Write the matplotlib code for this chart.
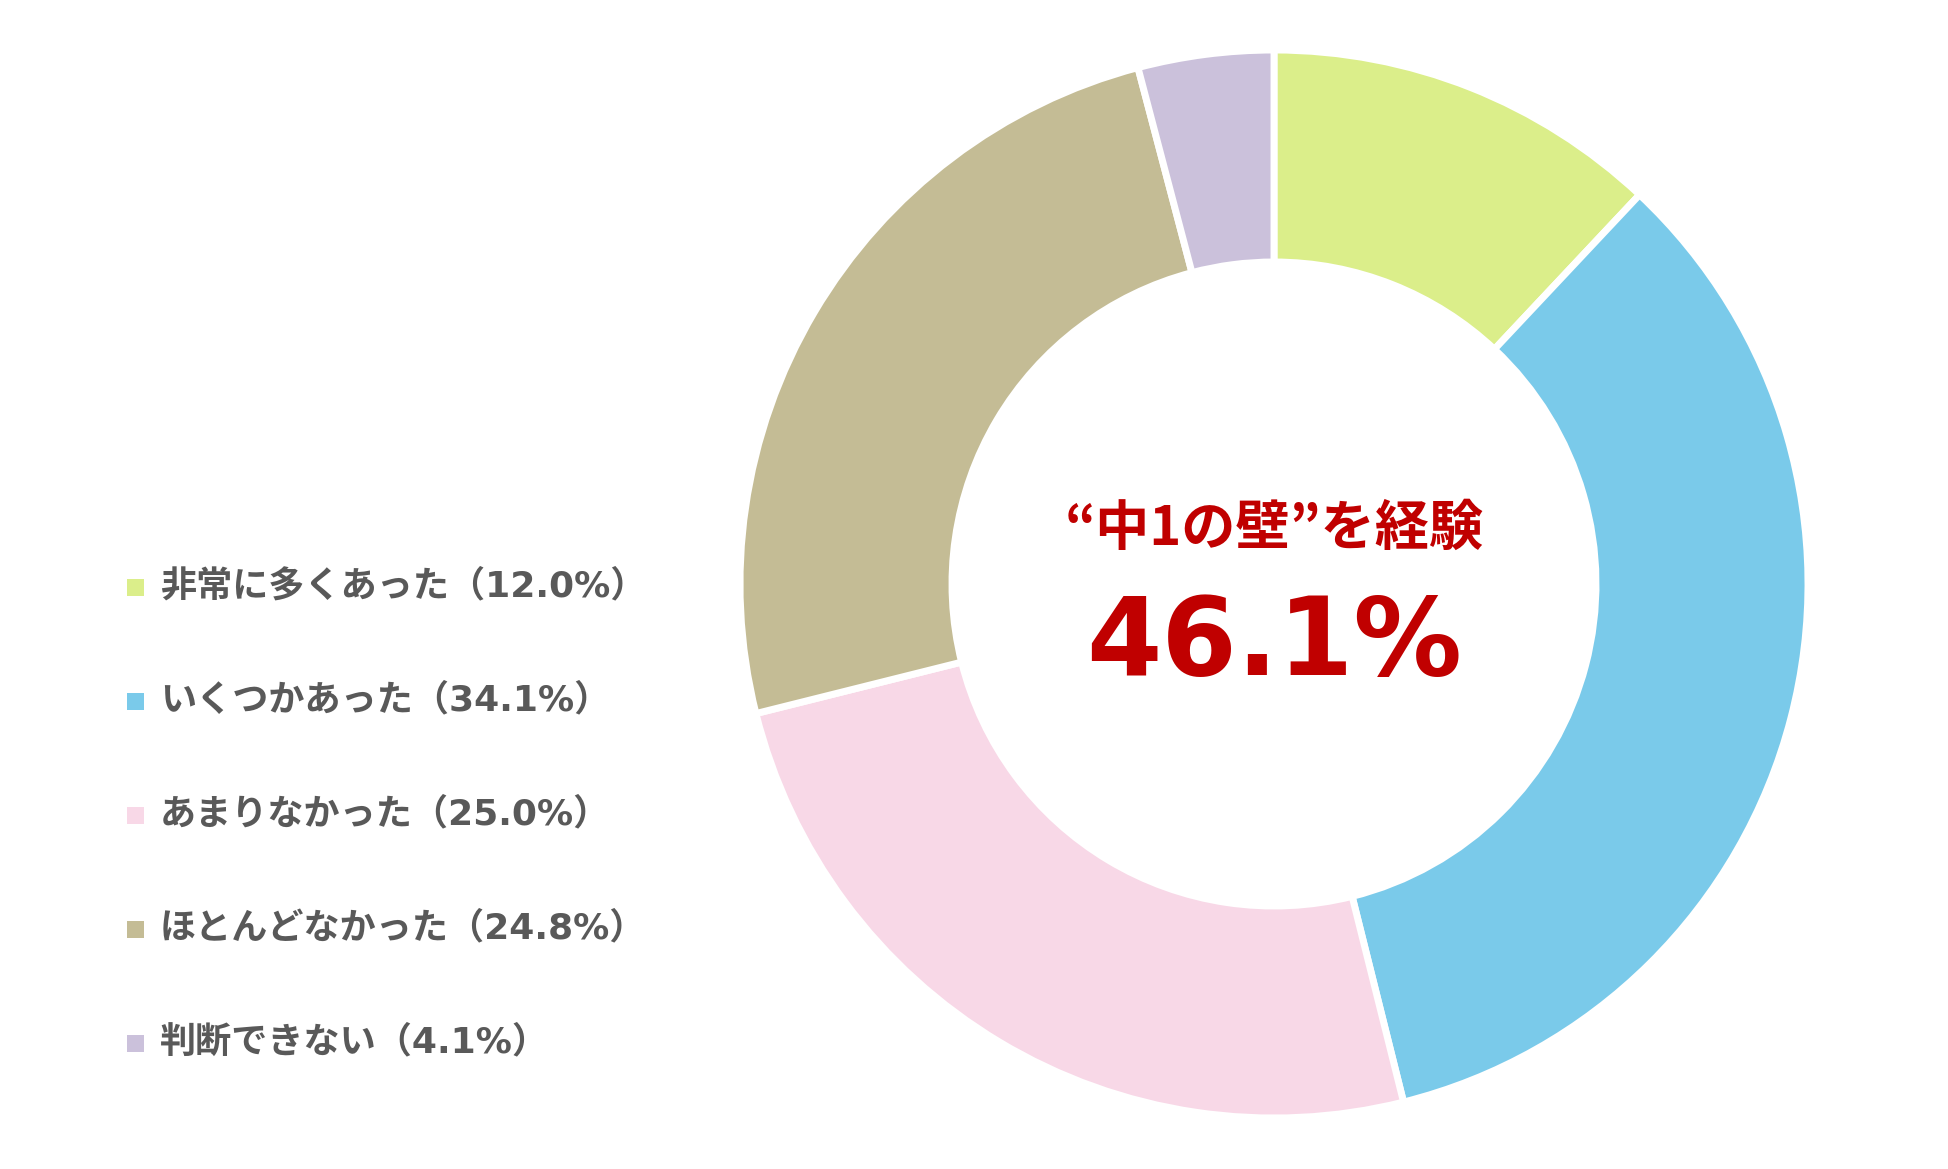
import matplotlib
matplotlib.use("Agg")
import matplotlib.pyplot as plt
from matplotlib.patches import Rectangle

categories = ["非常に多くあった", "いくつかあった", "あまりなかった", "ほとんどなかった", "判断できない"]
values = [12.0, 34.1, 25.0, 24.8, 4.1]
colors = ["#DBEE8A", "#7ACAEA", "#F8D8E7", "#C4BC95", "#CBC1DB"]
center_title = "“中1の壁”を経験"
center_value = "46.1%"

W, H = 1949, 1169
fig = plt.figure(figsize=(W / 100, H / 100), dpi=100)
fig.patch.set_facecolor("white")

cx, cy, R = 1274, 584, 534
ax = fig.add_axes([(cx - R) / W, (H - cy - R) / H, 2 * R / W, 2 * R / H])
ax.pie(values, colors=colors, startangle=90, counterclock=False, radius=1.0,
       wedgeprops=dict(width=0.397, edgecolor="white", linewidth=5))
ax.set_xlim(-1, 1)
ax.set_ylim(-1, 1)
ax.set_aspect("equal")
ax.axis("off")

jp = ["Noto Sans CJK JP", "DejaVu Sans"]
mixed = ["DejaVu Sans", "Noto Sans CJK JP"]
fig.text(cx / W, 1 - 529 / H, center_title, ha="center", va="center",
         fontsize=39, fontweight="bold", color="#C00000", family=jp)
fig.text(cx / W, 1 - 645 / H, center_value, ha="center", va="center",
         fontsize=78, fontweight="bold", color="#C00000", family="DejaVu Sans")

y0, dy = 585, 114
for i, (cat, v, c) in enumerate(zip(categories, values, colors)):
    y = y0 + i * dy
    fig.patches.append(Rectangle((127 / W, 1 - (y + 11) / H), 17 / W, 17 / H,
                                 transform=fig.transFigure, facecolor=c, edgecolor="none"))
    fig.text(160 / W, 1 - (y + 1) / H, f"{cat}（{v:.1f}%）", ha="left", va="center",
             fontsize=26, fontweight="bold", color="#595959", family=mixed)

fig.savefig("out.png", dpi=100, facecolor="white")
